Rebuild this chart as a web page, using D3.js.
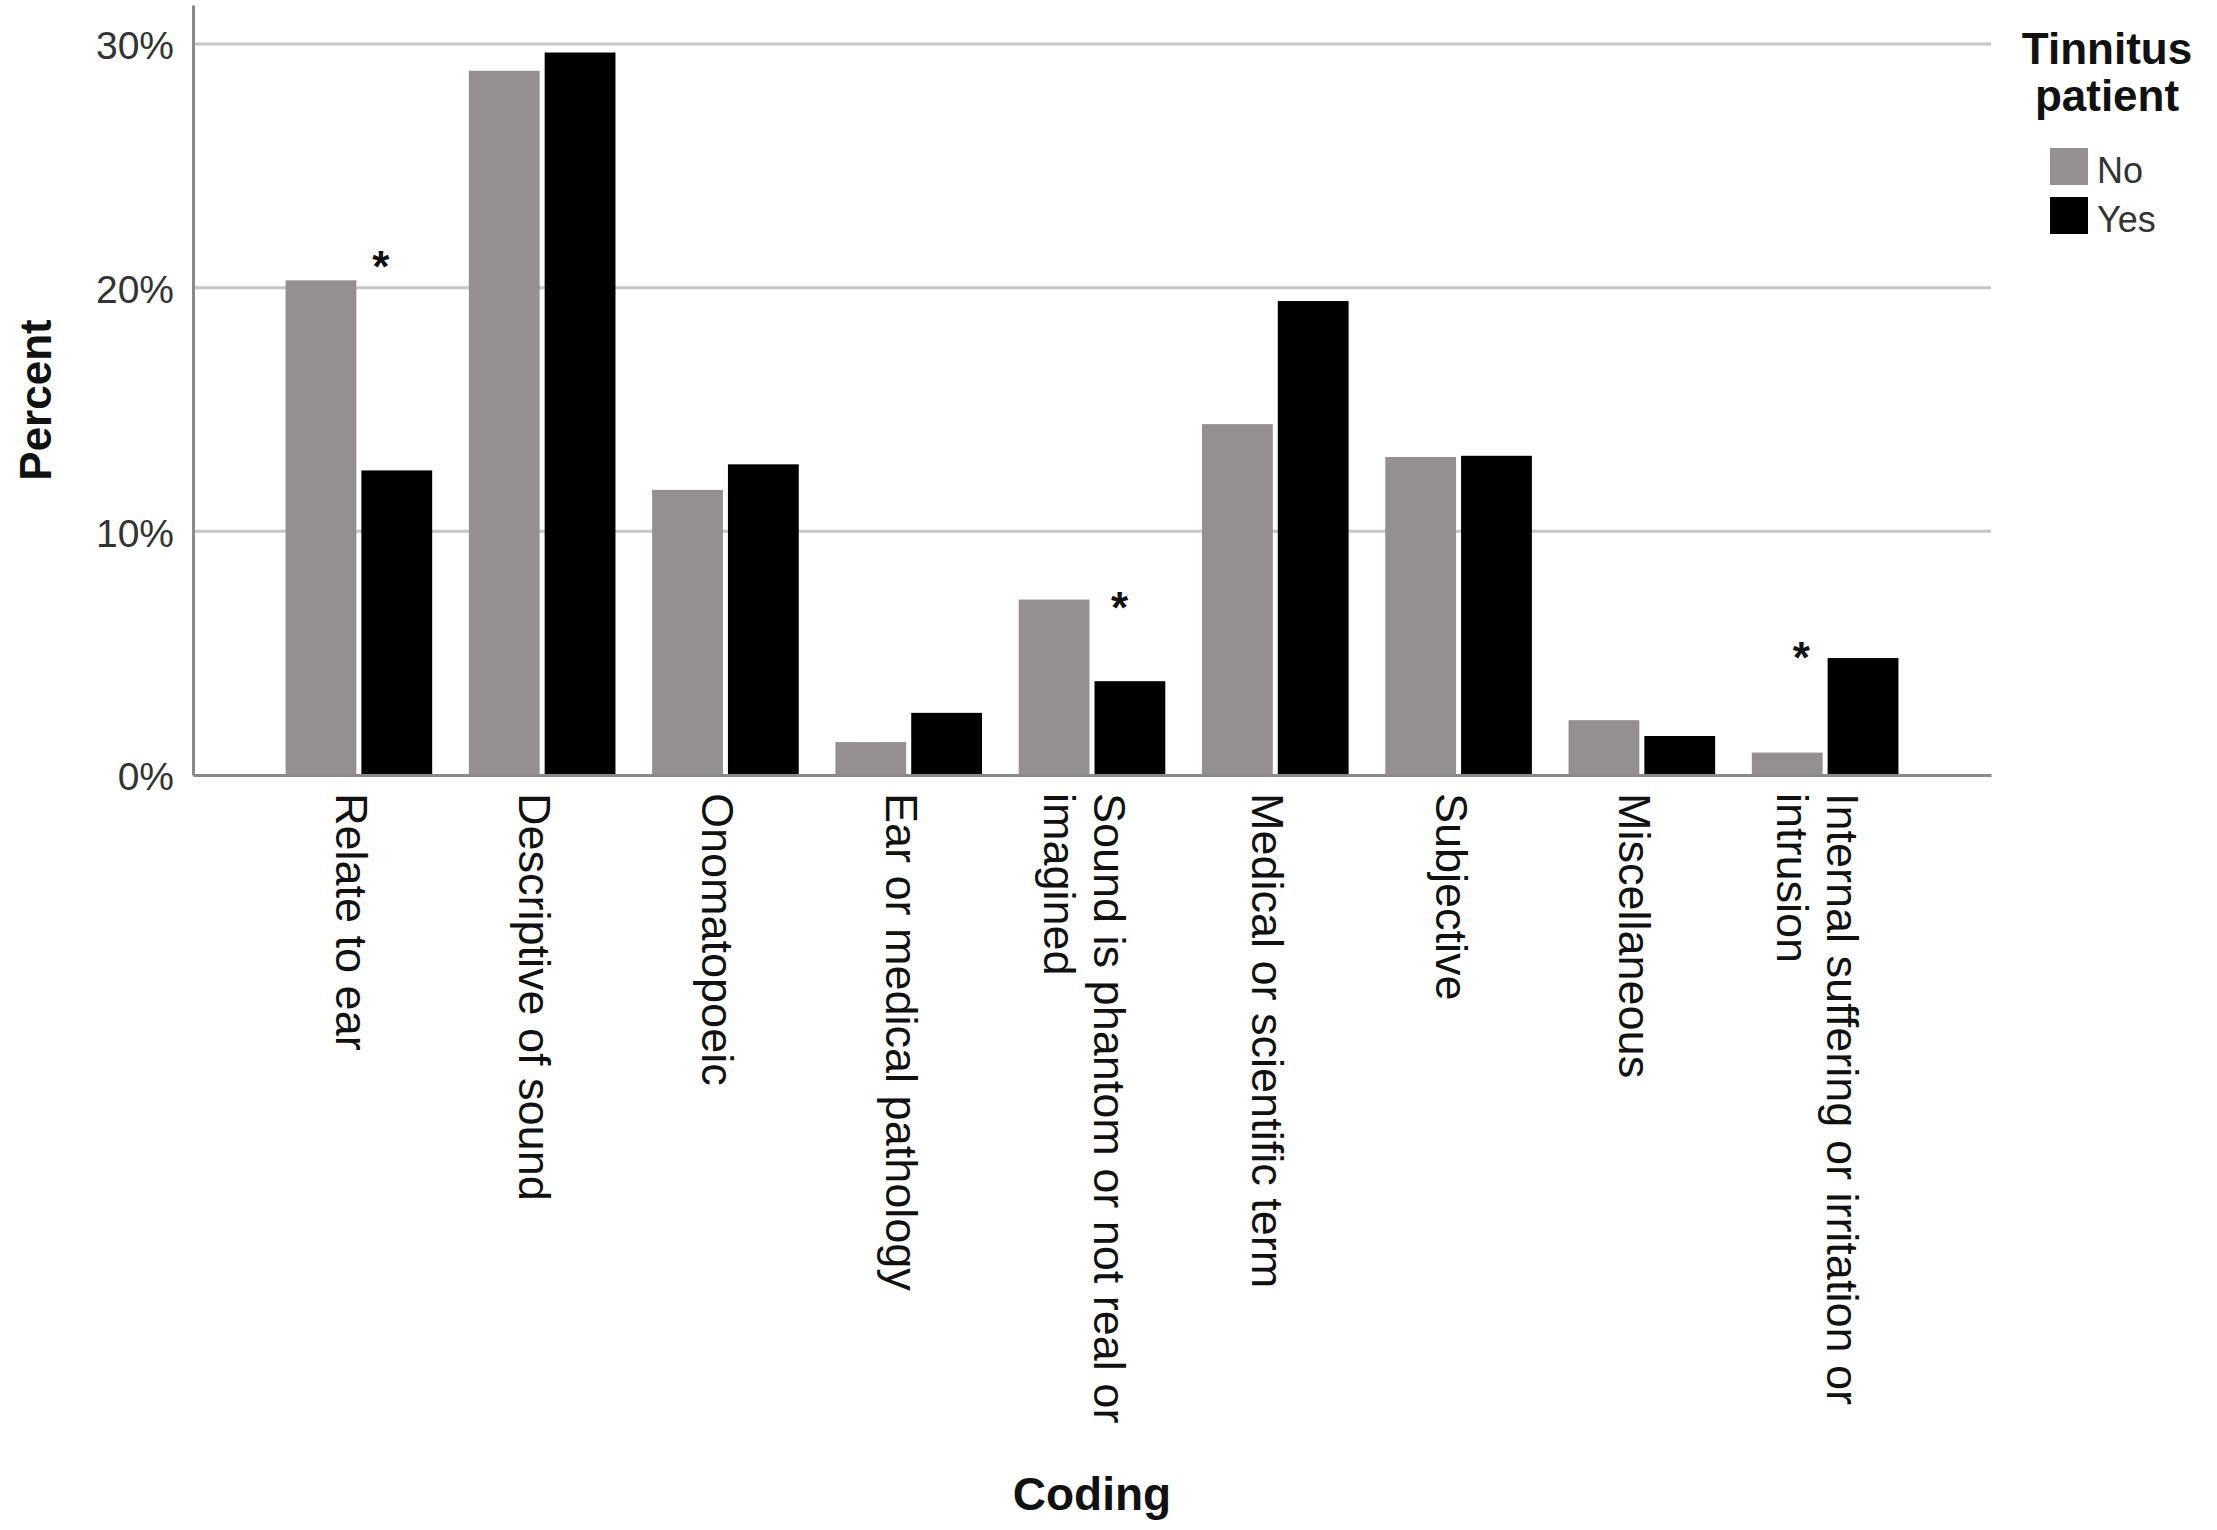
<!DOCTYPE html>
<html>
<head>
<meta charset="utf-8">
<script src="https://cdn.jsdelivr.net/npm/d3@7"></script>
<style>
  html, body { margin: 0; padding: 0; background: #fff; }
  svg { display: block; font-family: "Liberation Sans", Arial, sans-serif; }
</style>
</head>
<body>
<svg id="chart" width="2217" height="1530"></svg>
<script>
// ---- data ----
const categories = [
  "Relate to ear",
  "Descriptive of sound",
  "Onomatopoeic",
  "Ear or medical pathology",
  "Sound is phantom or not real or imagined",
  "Medical or scientific term",
  "Subjective",
  "Miscellaneous",
  "Internal suffering or irritation or intrusion"
];
const seriesNames = ["No", "Yes"];
const valuesNo  = [20.3, 28.9, 11.7, 1.35, 7.2, 14.4, 13.05, 2.25, 0.92];
const valuesYes = [12.5, 29.65, 12.75, 2.55, 3.85, 19.45, 13.1, 1.6, 4.8];
const yTicks = [0, 10, 20, 30];
const legendTitle = ["Tinnitus", "patient"];
const xTitle = "Coding";
const yTitle = "Percent";
// significance markers (category, level in %, shift as fraction of band step)
const starCategories = ["Relate to ear", "Sound is phantom or not real or imagined", "Internal suffering or irritation or intrusion"];
const starLevels = [21.25, 7.25, 5.2];
const starShift = [0.12, 0.15, -0.13];

(function () {
// ---- layout ----
const svg = d3.select("#chart");
const pLeft = 193, pRight = 1991, pTop = 5, pBottom = 775;
const colors = { No: "#958f8f", Yes: "#000000" };

const x = d3.scaleBand().domain(categories).range([pLeft, pRight])
  .paddingInner(0.2).paddingOuter(0.505);
const xs = d3.scaleBand().domain(seriesNames).range([0, x.bandwidth()]).paddingInner(0.066);
const y = d3.scaleLinear().domain([0, 31.6]).range([pBottom, pTop]);

// gridlines
svg.append("g")
  .selectAll("line").data(yTicks.filter(d => d > 0)).join("line")
  .attr("x1", pLeft).attr("x2", pRight)
  .attr("y1", d => y(d)).attr("y2", d => y(d))
  .attr("stroke", "#c6c6c6").attr("stroke-width", 3);

// bars
const rows = categories.map((c, i) => ({ cat: c, No: valuesNo[i], Yes: valuesYes[i] }));
svg.append("g").selectAll("g").data(rows).join("g")
  .attr("transform", d => `translate(${x(d.cat)},0)`)
  .selectAll("rect").data(d => seriesNames.map(s => ({ s, v: d[s] }))).join("rect")
  .attr("x", d => xs(d.s)).attr("width", xs.bandwidth())
  .attr("y", d => y(d.v)).attr("height", d => y(0) - y(d.v))
  .attr("fill", d => colors[d.s]);

// y axis
const yAxis = svg.append("g").attr("transform", `translate(${pLeft},0)`)
  .call(d3.axisLeft(y).tickValues(yTicks).tickFormat(d => d + "%").tickSize(0).tickPadding(19));
yAxis.select(".domain").attr("stroke", "#8a8a8a").attr("stroke-width", 3);
yAxis.selectAll("text").attr("font-size", 39).attr("fill", "#333")
  .attr("font-family", "Liberation Sans, Arial, sans-serif").attr("dy", "0.38em");

// x axis
const xAxis = svg.append("g").attr("transform", `translate(0,${pBottom})`)
  .call(d3.axisBottom(x).tickSize(0).tickPadding(0));
xAxis.select(".domain").attr("stroke", "#8a8a8a").attr("stroke-width", 3);
const lh = 50, maxW = 700;
xAxis.selectAll(".tick text").each(function(d) {
  const t = d3.select(this);
  t.text(null).attr("font-size", 45).attr("fill", "#111")
    .attr("font-family", "Liberation Sans, Arial, sans-serif")
    .attr("text-anchor", "start").attr("dominant-baseline", "central")
    .attr("y", 0).attr("dy", null)
    .attr("transform", "translate(-7,18) rotate(90)");
  const words = d.split(" ");
  const lines = [];
  let cur = [];
  const probe = t.append("tspan");
  words.forEach(w => {
    const test = cur.concat([w]).join(" ");
    probe.text(test);
    if (probe.node().getComputedTextLength() > maxW && cur.length) {
      lines.push(cur.join(" "));
      cur = [w];
    } else cur.push(w);
  });
  lines.push(cur.join(" "));
  probe.remove();
  const off = -(lines.length - 1) / 2 * lh;
  lines.forEach((ln, i) => {
    t.append("tspan").attr("x", 0).attr("y", off + i * lh).text(ln);
  });
});

// significance stars
svg.append("g").selectAll("text").data(starCategories).join("text")
  .attr("x", (c, i) => x(c) + x.bandwidth() / 2 + starShift[i] * x.step())
  .attr("y", (c, i) => y(starLevels[i]) + 25)
  .attr("text-anchor", "middle").attr("font-size", 44).attr("font-weight", "bold")
  .attr("fill", "#111").text("*");

// axis titles
svg.append("text").attr("transform", `translate(51,400) rotate(-90)`)
  .attr("text-anchor", "middle").attr("font-size", 44).attr("font-weight", "bold")
  .attr("fill", "#111").text(yTitle);
svg.append("text").attr("x", (pLeft + pRight) / 2).attr("y", 1510)
  .attr("text-anchor", "middle").attr("font-size", 46).attr("font-weight", "bold")
  .attr("fill", "#111").text(xTitle);

// legend
const lg = svg.append("g");
lg.append("text")
  .attr("x", 2107).attr("y", 64)
  .attr("text-anchor", "middle").attr("font-size", 44).attr("font-weight", "bold")
  .attr("fill", "#111")
  .selectAll("tspan").data(legendTitle).join("tspan")
  .attr("x", 2107).attr("dy", (d, i) => i === 0 ? 0 : 47).text(d => d);
const items = lg.selectAll("g.item").data(seriesNames).join("g").attr("class", "item")
  .attr("transform", (d, i) => `translate(2050,${148 + i * 49})`);
items.append("rect").attr("width", 38).attr("height", 37).attr("fill", d => colors[d]);
items.append("text").attr("x", 47).attr("y", 35).attr("font-size", 36)
  .attr("fill", "#333").text(d => d);
})();
</script>
</body>
</html>
